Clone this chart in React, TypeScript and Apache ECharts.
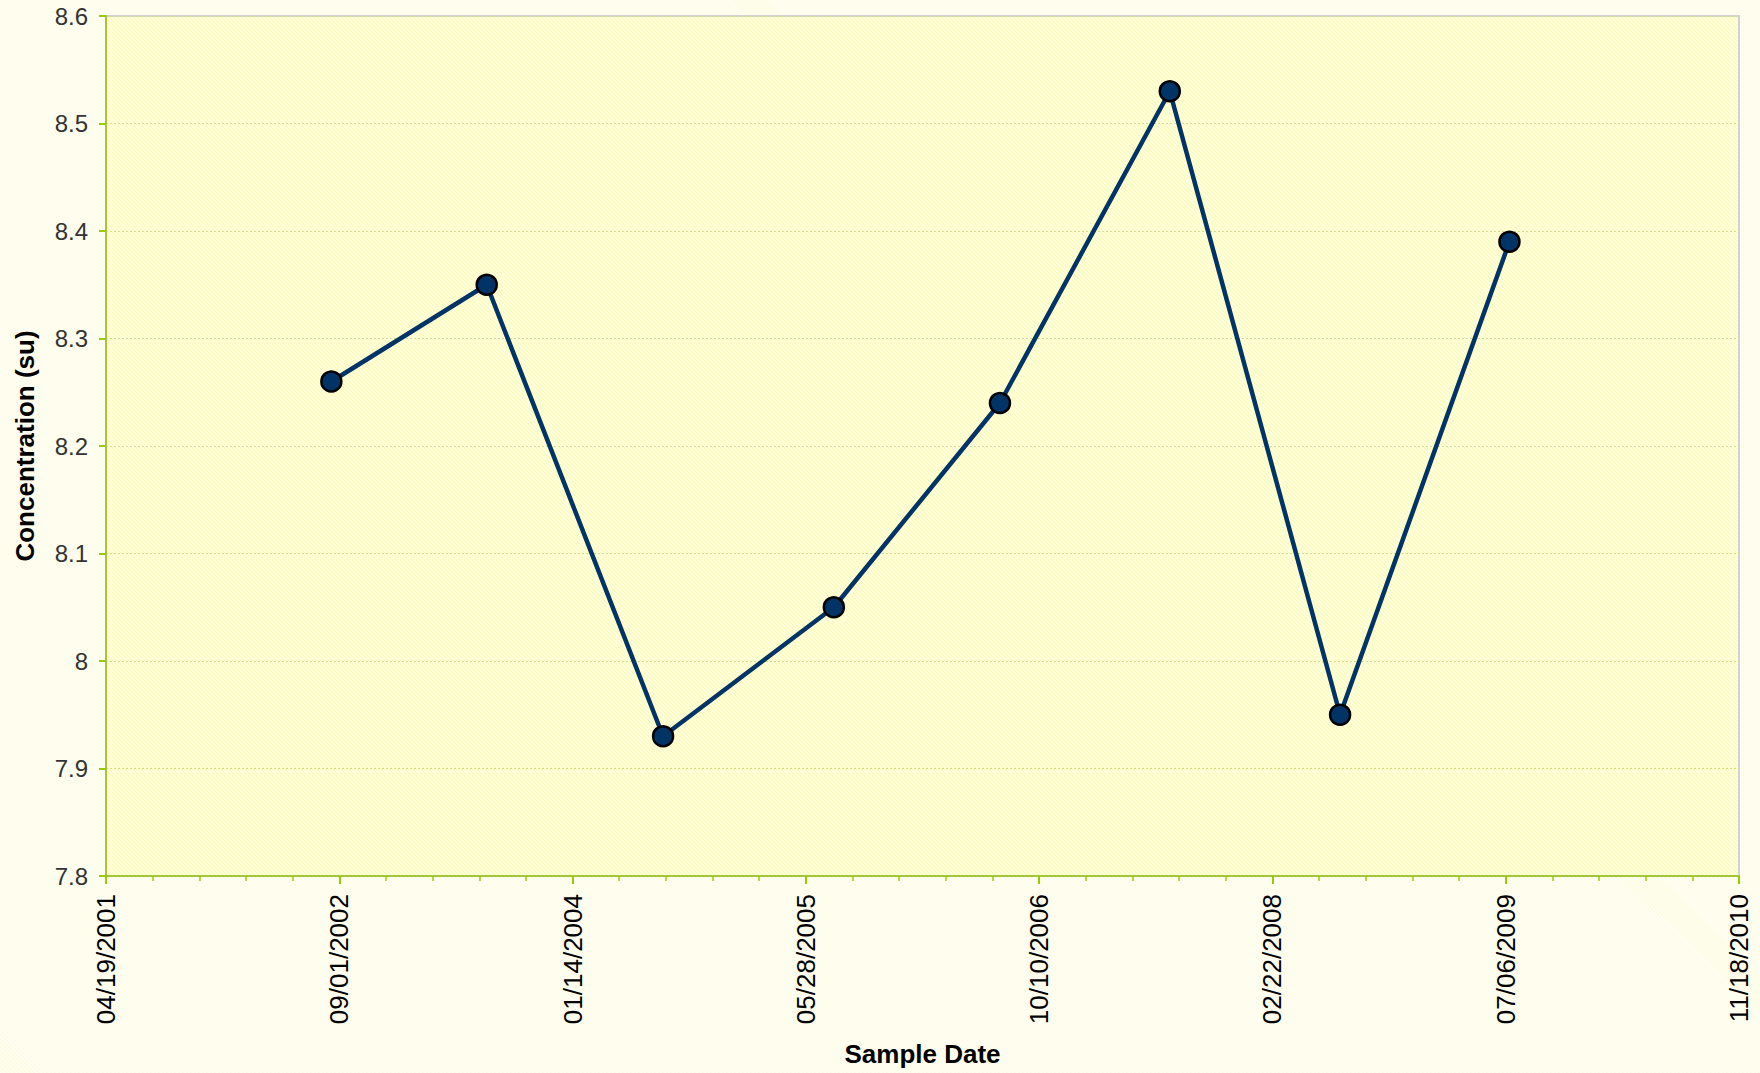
import React, { useEffect, useRef } from "react";
import * as echarts from "echarts";

const BASE_DATE = "2001-04-19";
const sampleDates = [
  "2002-08-15",
  "2003-07-14",
  "2004-07-26",
  "2005-07-27",
  "2006-07-18",
  "2007-07-17",
  "2008-07-16",
  "2009-07-14",
];
const concentrations = [8.26, 8.35, 7.93, 8.05, 8.24, 8.53, 7.95, 8.39];
const xMinDays = 0;
const xMaxDays = 3500;
const xIntervalDays = 500;
const yMin = 7.8;
const yMax = 8.6;
const yInterval = 0.1;

const DAY = 86400000;
const baseMs = Date.parse(BASE_DATE + "T00:00:00Z");
const toDays = (s: string) => Math.round((Date.parse(s + "T00:00:00Z") - baseMs) / DAY);
const fmtDate = (d: number) => {
  const dt = new Date(baseMs + d * DAY);
  const mm = String(dt.getUTCMonth() + 1).padStart(2, "0");
  const dd = String(dt.getUTCDate()).padStart(2, "0");
  return `${mm}/${dd}/${dt.getUTCFullYear()}`;
};

function makeStripeCanvas(base: string, stripe: string, width: number) {
  const c = document.createElement("canvas");
  c.width = 8;
  c.height = 8;
  const ctx = c.getContext("2d")!;
  ctx.fillStyle = base;
  ctx.fillRect(0, 0, 8, 8);
  ctx.strokeStyle = stripe;
  ctx.lineWidth = width;
  for (let k = -12; k <= 12; k += 4) {
    ctx.beginPath();
    ctx.moveTo(k - 2, -2);
    ctx.lineTo(k + 10, 10);
    ctx.stroke();
  }
  return c;
}

export default function App() {
  const ref = useRef<HTMLDivElement>(null);
  useEffect(() => {
    if (!ref.current) return;
    const chart = echarts.init(ref.current, null, { renderer: "svg" });
    const plotPattern = makeStripeCanvas("#ffffec", "#fdfdb4", 1.5);
    const data = sampleDates.map((d, i) => [toDays(d), concentrations[i]]);
    chart.setOption({
      animation: false,
      backgroundColor: "transparent",
      grid: {
        left: 106,
        top: 16,
        right: 21,
        bottom: 197,
        show: true,
        backgroundColor: { image: plotPattern, repeat: "repeat" },
        borderColor: "#d2d2d2",
        borderWidth: 2,
      },
      xAxis: {
        type: "value",
        min: xMinDays,
        max: xMaxDays,
        interval: xIntervalDays,
        name: "Sample Date",
        nameLocation: "middle",
        nameGap: 165,
        nameTextStyle: { fontFamily: "Liberation Sans, Arial", fontSize: 26, fontWeight: "bold", color: "#000" },
        axisLine: { show: true, lineStyle: { color: "#a4c639", width: 2 } },
        axisTick: { show: true, length: 8, lineStyle: { color: "#99cc00", width: 2 } },
        minorTick: { show: true, splitNumber: 5, length: 5, lineStyle: { color: "#99cc00", width: 1.5 } },
        splitLine: { show: false },
        axisLabel: {
          rotate: 90,
          margin: 18,
          fontFamily: "Liberation Sans, Arial",
          fontSize: 26,
          color: "#000",
          showMinLabel: true,
          showMaxLabel: true,
          formatter: (v: number) => fmtDate(v),
        },
      },
      yAxis: {
        type: "value",
        min: yMin,
        max: yMax,
        interval: yInterval,
        name: "Concentration (su)",
        nameLocation: "middle",
        nameGap: 68,
        nameTextStyle: { fontFamily: "Liberation Sans, Arial", fontSize: 26, fontWeight: "bold", color: "#000" },
        axisLine: { show: true, lineStyle: { color: "#a4c639", width: 2 } },
        axisTick: { show: true, length: 7, lineStyle: { color: "#99cc00", width: 2 } },
        splitLine: { show: true, lineStyle: { color: "#cfe08f", width: 1, type: [2, 2] } },
        axisLabel: {
          margin: 18,
          fontFamily: "Liberation Sans, Arial",
          fontSize: 24,
          color: "#333",
          formatter: (v: number) => String(Math.round(v * 10) / 10),
        },
      },
      series: [
        {
          type: "line",
          data,
          lineStyle: { color: "#003366", width: 4.5 },
          itemStyle: { color: "#003366", borderColor: "#000", borderWidth: 2.5 },
          symbol: "circle",
          symbolSize: 20,
          showSymbol: true,
        },
      ],
    });
    return () => chart.dispose();
  }, []);
  return (
    <div
      style={{
        position: "absolute",
        left: 0,
        top: 0,
        width: 1760,
        height: 1073,
        background:
          "repeating-linear-gradient(45deg, #fffff8 0px, #fffff8 1.4px, #fdfde6 1.4px, #fdfde6 2.83px)",
      }}
    >
      <div ref={ref} style={{ width: 1760, height: 1073 }} />
    </div>
  );
}
